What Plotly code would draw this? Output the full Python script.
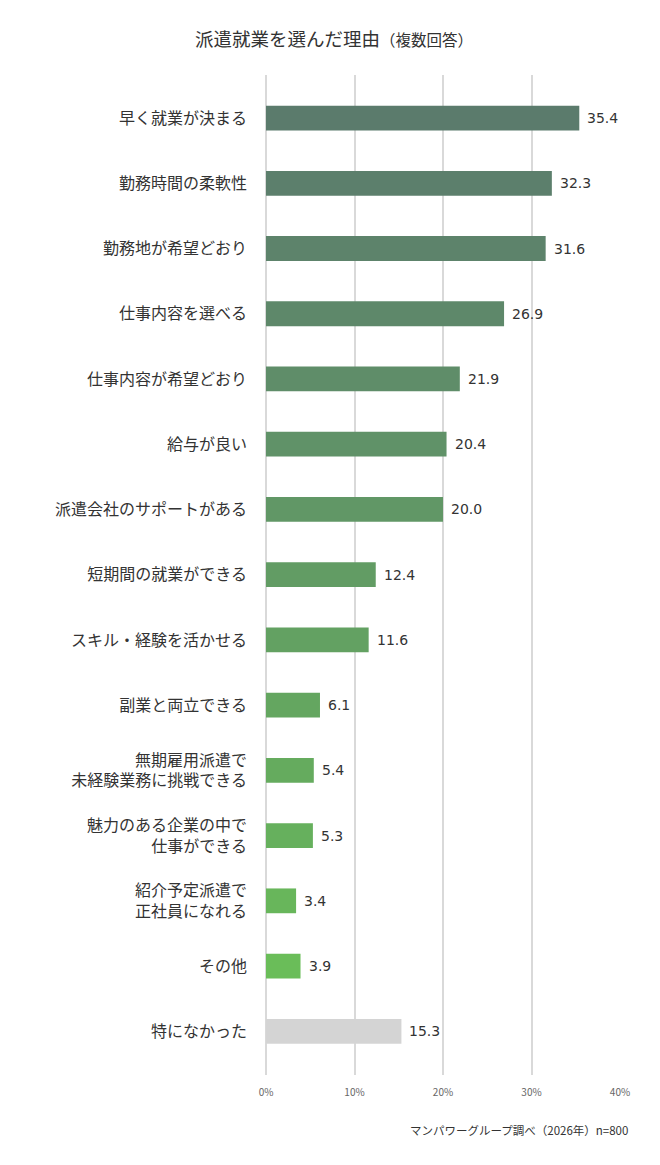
import plotly.graph_objects as go

categories = [
    "早く就業が決まる",
    "勤務時間の柔軟性",
    "勤務地が希望どおり",
    "仕事内容を選べる",
    "仕事内容が希望どおり",
    "給与が良い",
    "派遣会社のサポートがある",
    "短期間の就業ができる",
    "スキル・経験を活かせる",
    "副業と両立できる",
    "無期雇用派遣で<br>未経験業務に挑戦できる",
    "魅力のある企業の中で<br>仕事ができる",
    "紹介予定派遣で<br>正社員になれる",
    "その他",
    "特になかった",
]
values = [35.4, 32.3, 31.6, 26.9, 21.9, 20.4, 20.0, 12.4, 11.6, 6.1, 5.4, 5.3, 3.4, 3.9, 15.3]
value_labels = ["35.4", "32.3", "31.6", "26.9", "21.9", "20.4", "20.0", "12.4", "11.6", "6.1", "5.4", "5.3", "3.4", "3.9", "15.3"]
tick_vals = [0, 10, 20, 30, 40]
tick_text = ["0%", "10%", "20%", "30%", "40%"]

bar_colors = [
    "#5b7b6c", "#5c7f6c", "#5d836b", "#5e886a", "#5f8d69", "#609268", "#619766",
    "#629c64", "#63a162", "#64a660", "#65ab5e", "#66b05d", "#68b65b", "#6abd59",
    "#d4d4d4",
]

FONT = "Noto Sans CJK JP"
NUM_FONT = "DejaVu Sans"

# page is offset by the 8px body margin; size figure to fill the visible window
W, H = 652, 1157
L, R, T, B = 258, 40, 67, 90
plot_w = W - L - R
plot_h = H - T - B

fig = go.Figure(
    go.Bar(
        x=values,
        y=categories,
        orientation="h",
        marker=dict(color=bar_colors, line=dict(width=0)),
        width=0.38,
        hoverinfo="skip",
    )
)

annotations = [
    dict(
        x=v,
        y=c,
        xref="x",
        yref="y",
        text=t,
        xanchor="left",
        yanchor="middle",
        xshift=6,
        showarrow=False,
        font=dict(family=NUM_FONT, size=14, color="#333333"),
    )
    for c, v, t in zip(categories, values, value_labels)
]
annotations.append(
    dict(
        text="マンパワーグループ調べ（2026年）n=800",
        xref="paper",
        yref="paper",
        x=1 + 10 / plot_w,
        y=-(1122 - (T + plot_h)) / plot_h,
        xanchor="right",
        yanchor="middle",
        showarrow=False,
        font=dict(family=FONT, size=11.5, color="#333333"),
    )
)

fig.update_layout(
    width=W,
    height=H,
    margin=dict(l=L, r=R, t=T, b=B),
    paper_bgcolor="white",
    plot_bgcolor="white",
    showlegend=False,
    font=dict(family=FONT, color="#333333"),
    title=dict(
        text="派遣就業を選んだ理由<span style='font-size:15.5px'>（複数回答）</span>",
        x=0.5,
        xanchor="center",
        y=1 - 32 / H,
        yanchor="middle",
        font=dict(family=FONT, size=18.5, color="#333333"),
    ),
    xaxis=dict(
        range=[0, 40],
        tickvals=tick_vals,
        ticktext=tick_text,
        showgrid=True,
        gridcolor="#d9d9d9",
        gridwidth=1.5,
        zeroline=True,
        zerolinecolor="#d9d9d9",
        zerolinewidth=1.5,
        showline=False,
        ticks="",
        tickfont=dict(family=FONT, size=10, color="#666666"),
        ticklabelstandoff=10,
        fixedrange=True,
    ),
    yaxis=dict(
        categoryorder="array",
        categoryarray=categories,
        autorange=False,
        range=[14.67, -0.66],
        showgrid=False,
        zeroline=False,
        showline=False,
        ticks="",
        ticklabelstandoff=18,
        tickfont=dict(family=FONT, size=16, color="#333333"),
        fixedrange=True,
    ),
    annotations=annotations,
)

fig.write_html("out.html")
